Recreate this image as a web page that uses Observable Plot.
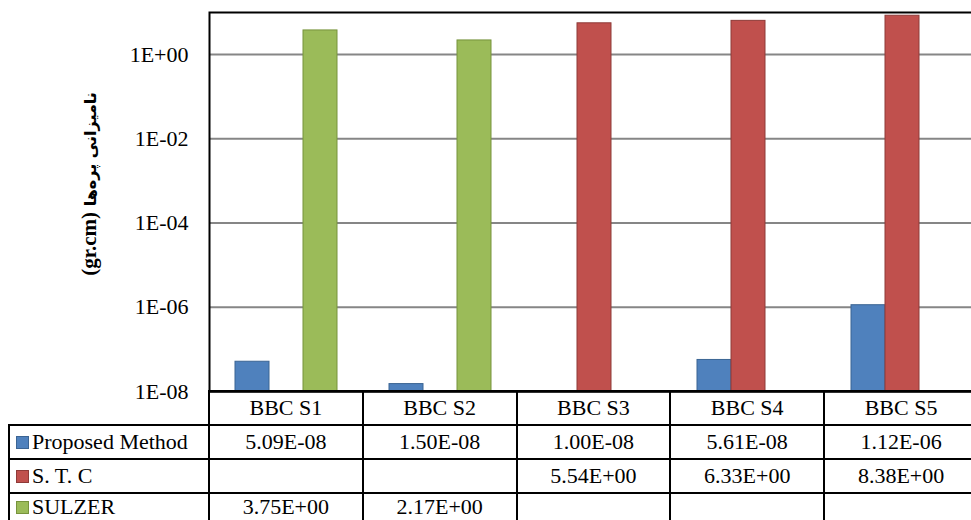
<!DOCTYPE html>
<html><head><meta charset="utf-8">
<script src="https://cdn.jsdelivr.net/npm/d3@7"></script>
<script src="https://cdn.jsdelivr.net/npm/@observablehq/plot@0.6"></script>
<style>
html,body{margin:0;padding:0;background:#fff;overflow:hidden;width:971px;height:520px;}
#wrap{position:relative;width:979px;height:520px;}
#chart{position:absolute;left:0;top:0;}
#ytitle{position:absolute;left:89px;top:184px;transform:translate(-50%,-50%) rotate(-90deg);white-space:nowrap;font-weight:bold;color:#000;direction:rtl;unicode-bidi:isolate;}
#ytitle .fa{font-size:16px;font-family:"DejaVu Sans",sans-serif;font-weight:bold;}
#ytitle .unit{font-size:21px;font-family:"Liberation Serif","Times New Roman",serif;font-weight:bold;}
table{position:absolute;left:8px;top:390px;border-collapse:collapse;table-layout:fixed;font:22px "Liberation Serif","Times New Roman",serif;color:#000;}
td{border:2px solid #000;padding:0;height:32px;text-align:center;white-space:nowrap;overflow:hidden;}
td.lab{text-align:left;padding-left:6px;}
td.blank{border-top:none;border-left:none;}
tr.last td{vertical-align:top;}
.sw{display:inline-block;width:13px;height:13px;margin-right:3px;vertical-align:0px;box-sizing:border-box;border:1px solid;}
</style></head>
<body>
<div id="wrap">
  <div id="chart"></div>
  <div id="ytitle"></div>
  <table id="tbl"></table>
</div>
<script>
const categories = ["BBC S1", "BBC S2", "BBC S3", "BBC S4", "BBC S5"];
const seriesNames = ["Proposed Method", "S. T. C", "SULZER"];
const proposed = [5.09e-8, 1.50e-8, 1.00e-8, 5.61e-8, 1.12e-6];
const stc = [null, null, 5.54, 6.33, 8.38];
const sulzer = [3.75, 2.17, null, null, null];
const tickValues = [1e-8, 1e-6, 1e-4, 1e-2, 1e0];
const tickLabels = ["1E-08", "1E-06", "1E-04", "1E-02", "1E+00"];
const yDomain = [1e-8, 1e1];
const fills = ["#4F81BD", "#C0504D", "#9BBB59"];
const strokes = ["#3B6493", "#8E3A38", "#77933C"];
const yTitlePersian = "نامیزانی پره\u200cها";
const yTitleUnit = "(gr.cm)";

const values = [proposed, stc, sulzer];
const data = [];
categories.forEach((c, i) => {
  seriesNames.forEach((s, j) => {
    const v = values[j][i];
    if (v != null) data.push({category: c, series: s, value: v});
  });
});

const chart = Plot.plot({
  width: 979,
  height: 404,
  marginLeft: 208,
  marginRight: 0,
  marginTop: 12,
  marginBottom: 13,
  style: {fontFamily: '"Liberation Serif", "Times New Roman", serif', fontSize: "22px", color: "#000", background: "transparent", overflow: "visible", maxWidth: "none"},
  fx: {domain: categories, padding: 0, axis: null, label: null},
  x: {domain: seriesNames, paddingInner: 0, paddingOuter: 0.73, axis: null},
  y: {type: "log", domain: yDomain, axis: null},
  marks: [
    Plot.gridY(tickValues, {stroke: "#868686", strokeOpacity: 1, strokeWidth: 2}),
    ...seriesNames.map((s, j) => Plot.barY(data.filter(d => d.series === s), {
      fx: "category", x: "series", y1: () => yDomain[0], y2: "value",
      fill: fills[j], stroke: strokes[j], strokeWidth: 1
    })),
    Plot.ruleY([yDomain[0]], {stroke: "#000", strokeWidth: 2}),
    Plot.axisY({ticks: tickValues, tickFormat: d => tickLabels[tickValues.indexOf(d)], tickSize: 0, tickPadding: 21, fontSize: 22, fill: "#000", label: null}),
    Plot.frame({facet: "super", stroke: "#000", strokeWidth: 2})
  ]
});
document.getElementById("chart").appendChild(chart);

const yt = document.getElementById("ytitle");
const fa = document.createElement("span");
fa.className = "fa";
fa.textContent = yTitlePersian + " ";
const unit = document.createElement("bdi");
unit.className = "unit";
unit.setAttribute("dir", "ltr");
unit.textContent = yTitleUnit;
yt.appendChild(fa);
yt.appendChild(unit);

function fmt(v) {
  if (v == null) return "";
  const [m, e] = v.toExponential(2).split("e");
  const n = Math.abs(+e);
  return m + "E" + (+e < 0 ? "-" : "+") + String(n).padStart(2, "0");
}

const tbl = document.getElementById("tbl");
let html = '<colgroup><col style="width:200px">' + categories.map(() => '<col style="width:154px">').join("") + '</colgroup>';
html += '<tr><td class="blank"></td>' + categories.map(c => `<td>${c}</td>`).join("") + '</tr>';
seriesNames.forEach((s, j) => {
  html += `<tr${j === seriesNames.length - 1 ? ' class="last"' : ''}><td class="lab"><span class="sw" style="background:${fills[j]};border-color:${strokes[j]}"></span>${s}</td>` +
    values[j].map(v => `<td>${fmt(v)}</td>`).join("") + '</tr>';
});
tbl.innerHTML = html;
</script>
</body></html>
